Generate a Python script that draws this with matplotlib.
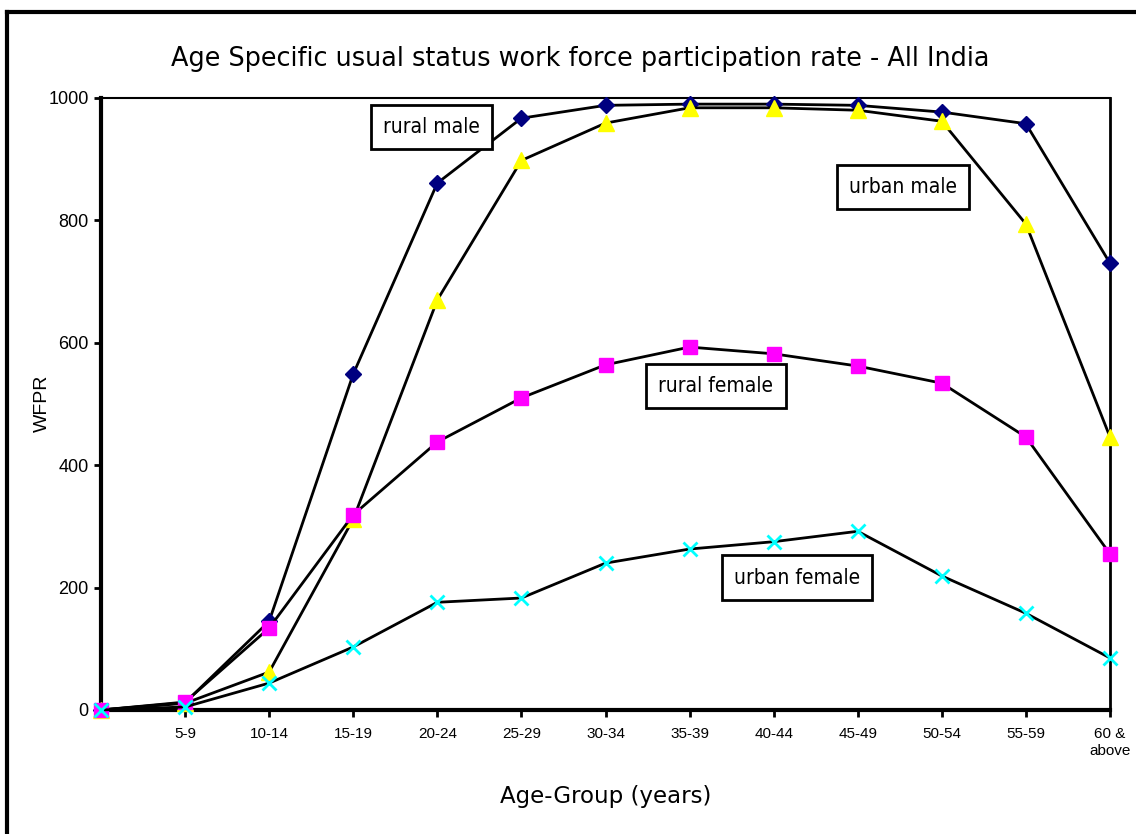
import matplotlib
matplotlib.use("Agg")
import matplotlib.pyplot as plt
from matplotlib.lines import Line2D
from matplotlib import font_manager

age_groups = ["", "5-9", "10-14", "15-19", "20-24", "25-29", "30-34", "35-39",
              "40-44", "45-49", "50-54", "55-59", "60 &\nabove"]
rural_male = [0, 12, 145, 549, 861, 967, 988, 990, 990, 988, 977, 958, 730]
urban_male = [0, 11, 62, 312, 670, 898, 959, 984, 984, 980, 962, 794, 446]
rural_female = [0, 13, 134, 319, 438, 510, 564, 593, 582, 562, 534, 446, 255]
urban_female = [0, 5, 44, 103, 176, 183, 240, 263, 275, 292, 219, 158, 85]

# pick a narrow font for the in-plot labels if one is available
fl = font_manager.fontManager.ttflist
narrow_kw = dict(family="Liberation Sans", fontsize=16)
if any(f.name == "Liberation Sans Narrow" for f in fl):
    narrow_kw = dict(family="Liberation Sans Narrow", fontsize=17)
elif any(f.name == "DejaVu Sans" and f.stretch == "condensed" for f in fl):
    narrow_kw = dict(family="DejaVu Sans", fontstretch="condensed", fontsize=15)

fig = plt.figure(figsize=(11.36, 8.34), dpi=100)
ax = fig.add_axes([101/1136, 1-710/834, 1009/1136, 612/834])

x = list(range(len(age_groups)))
ax.plot(x, rural_male, color="black", lw=2, marker="D", ms=8.5,
        mfc="#000080", mec="#000080", zorder=3, clip_on=False)
ax.plot(x, urban_male, color="black", lw=2, marker="^", ms=11,
        mfc="#FFFF00", mec="#FFFF00", zorder=3, clip_on=False)
ax.plot(x, rural_female, color="black", lw=2, marker="s", ms=10,
        mfc="#FF00FF", mec="#FF00FF", zorder=3, clip_on=False)
ax.plot(x, urban_female, color="black", lw=2, marker="x", ms=10, mew=2,
        mfc="#00FFFF", mec="#00FFFF", zorder=3, clip_on=False)

ax.set_xlim(0, 12)
ax.set_ylim(0, 1000)
ax.set_xticks(x)
ax.set_xticklabels(age_groups, fontsize=11, family="Liberation Sans",
                   linespacing=1.3)
ax.set_yticks([0, 200, 400, 600, 800, 1000])
ax.set_yticklabels(["0", "200", "400", "600", "800", "1000"], fontsize=13,
                   family="Liberation Sans")
ax.tick_params(axis="both", direction="out", length=5, width=2)
ax.tick_params(axis="x", pad=7)
ax.tick_params(axis="y", pad=4)
ax.spines["left"].set_linewidth(3)
ax.spines["bottom"].set_linewidth(3)
ax.spines["top"].set_linewidth(1.5)
ax.spines["right"].set_linewidth(2)

fig.text(42/1136, 1-403/834, "WFPR", fontsize=14, family="Liberation Sans",
         rotation=90, ha="center", va="center")
fig.text(606/1136, 1-797/834, "Age-Group (years)", fontsize=16.5,
         family="DejaVu Sans", ha="center", va="center")
fig.text(580/1136, 1-59/834,
         "Age Specific usual status work force participation rate - All India",
         fontsize=18.4, family="DejaVu Sans", ha="center", va="center")

labels = [("rural male", 0.3275, 0.952),
          ("urban male", 0.795, 0.855),
          ("rural female", 0.6095, 0.530),
          ("urban female", 0.690, 0.2165)]
for txt, lx, ly in labels:
    ax.text(lx, ly, txt, transform=ax.transAxes, ha="center", va="center",
            zorder=6, **narrow_kw,
            bbox=dict(boxstyle="square,pad=0.58", fc="white", ec="black", lw=2))

# slide frame: only the left and top edges are visible in the reference
fig.lines.append(Line2D([7/1136, 7/1136], [0, 1-12/834], transform=fig.transFigure,
                        color="black", lw=3))
fig.lines.append(Line2D([7/1136, 1], [1-12/834, 1-12/834], transform=fig.transFigure,
                        color="black", lw=3))

fig.savefig("out.png", dpi=100)
